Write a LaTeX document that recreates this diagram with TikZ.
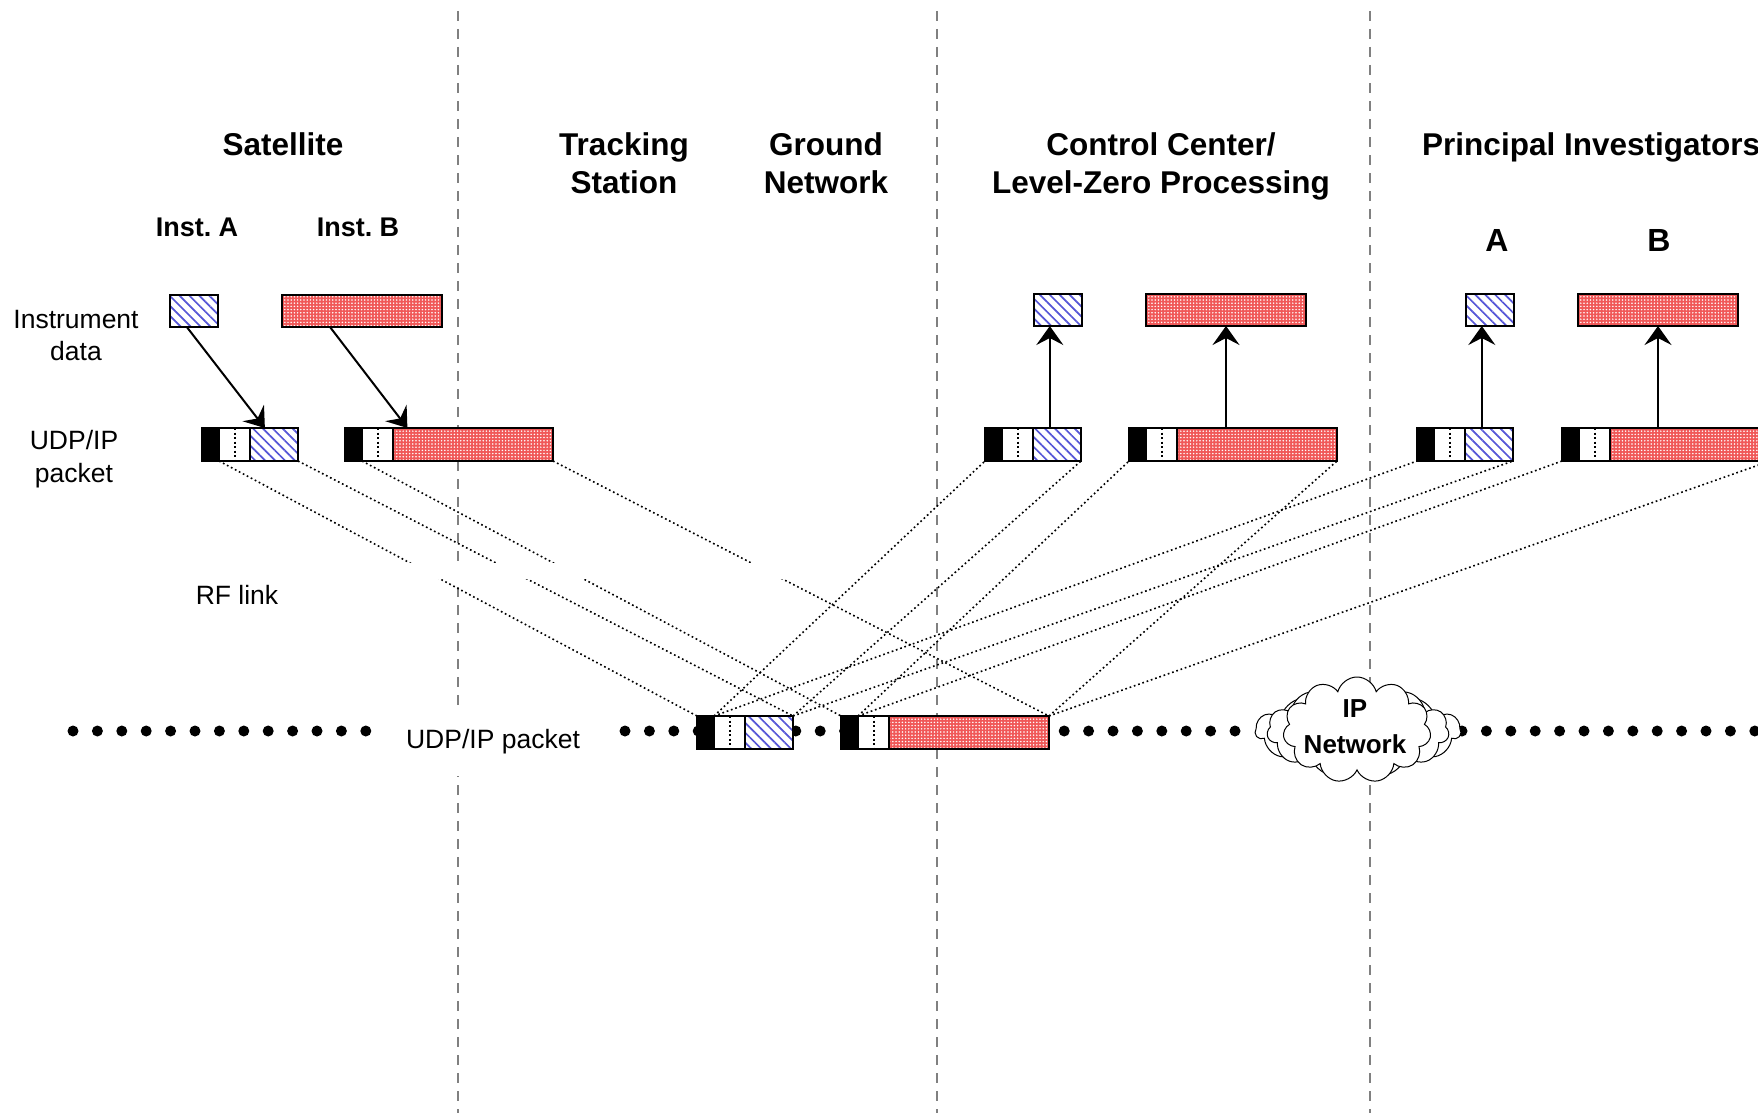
\documentclass[tikz,border=0pt]{standalone}
\usepackage{fontspec}
\setmainfont{Liberation Sans}
\usetikzlibrary{positioning,calc,arrows.meta,patterns.meta,shapes.symbols}
\definecolor{pktblue}{RGB}{85,85,215}
\definecolor{pktred}{RGB}{240,88,88}
\definecolor{zonegray}{RGB}{128,128,128}
\tikzset{
  zone/.style={draw=zonegray, line width=2.5pt, dash pattern=on 10pt off 8pt},
  hdrblack/.style={draw, fill=black, line width=2pt, minimum width=17pt, minimum height=33pt, inner sep=0pt, outer sep=0pt},
  hdrwhite/.style={draw, fill=white, line width=2pt, minimum width=31pt, minimum height=33pt, inner sep=0pt, outer sep=0pt},
  bluepay/.style={draw, line width=2pt, minimum height=33pt, inner sep=0pt, outer sep=0pt,
    preaction={fill=white}, pattern={Lines[angle=-45,distance=7pt,line width=1.7pt]}, pattern color=pktblue},
  redpay/.style={draw, line width=2pt, minimum height=33pt, inner sep=0pt, outer sep=0pt,
    preaction={fill=pktred}, pattern={Dots[distance=3.2pt,radius=0.85pt]}, pattern color=white},
  pktsep/.style={line width=2pt, dash pattern=on 2pt off 2.5pt},
  hop/.style={line width=1.6pt, dash pattern=on 1.7pt off 2.8pt},
  feed/.style={-{Stealth[length=19pt,width=27pt,inset=7pt]}, line width=2pt},
  busdots/.style={line width=11pt, line cap=round, dash pattern=on 0pt off 24.4pt},
  cloudbase/.style={cloud, cloud puffs=11, cloud ignores aspect, draw, fill=white, line width=1pt, inner sep=0pt},
  title/.style={font=\fontsize{31.5}{38}\selectfont\bfseries, align=center, inner sep=0pt},
  sublabel/.style={font=\fontsize{27}{33}\selectfont\bfseries, inner sep=0pt},
  pilabel/.style={font=\fontsize{32}{38}\selectfont\bfseries, inner sep=0pt},
  note/.style={font=\fontsize{26.5}{32.5}\selectfont, align=center, inner sep=0pt},
}
% packet: name, left x, top y, payload style, payload width
\newcommand{\udppkt}[5]{%
  \node[hdrblack, anchor=north west] (#1h) at (#2,#3) {};
  \node[hdrwhite, right=0pt of #1h] (#1w) {};
  \node[#4, minimum width=#5, right=0pt of #1w] (#1p) {};
  \draw[pktsep] (#1w.north) -- (#1w.south);
}

\begin{document}
\begin{tikzpicture}[x=1pt,y=-1pt]
\useasboundingbox (0,0) rectangle (1758,1116);

% zone borders
\foreach \zx in {458,937,1370}
  \draw[zone] (\zx,11) -- (\zx,1113);

% RF / IP bus
\draw[busdots] (73,731) -- (368,731);
\draw[busdots] (625,731) -- (1250,731);
\draw[busdots] (1462,731) -- (1770,731);

% instrument data
\node[bluepay, minimum width=48pt, minimum height=32pt, anchor=north west] (sai) at (170,295) {};
\node[redpay, minimum width=160pt, minimum height=32pt, anchor=north west] (sbi) at (282,295) {};
\node[bluepay, minimum width=48pt, minimum height=32pt, anchor=north west] (cai) at (1034,294) {};
\node[redpay, minimum width=160pt, minimum height=32pt, anchor=north west] (cbi) at (1146,294) {};
\node[bluepay, minimum width=48pt, minimum height=32pt, anchor=north west] (pai) at (1466,294) {};
\node[redpay, minimum width=160pt, minimum height=32pt, anchor=north west] (pbi) at (1578,294) {};

% UDP/IP packets
\udppkt{sa}{202}{428}{bluepay}{48pt}
\udppkt{sb}{345}{428}{redpay}{160pt}
\udppkt{ca}{985}{428}{bluepay}{48pt}
\udppkt{cb}{1129}{428}{redpay}{160pt}
\udppkt{pa}{1417}{428}{bluepay}{48pt}
\udppkt{pb}{1562}{428}{redpay}{160pt}

% packets on the link
\udppkt{ga}{697}{716}{bluepay}{48pt}
\udppkt{gb}{841}{716}{redpay}{160pt}

\draw[hop] (saw.south west) -- (gah.north west);
\draw[hop] (sap.south east) -- (gap.north east);
\draw[hop] (sbw.south west) -- (gbh.north west);
\draw[hop] (sbp.south east) -- (gbp.north east);
\draw[hop] (gaw.north west) -- (cah.south west);
\draw[hop] (gap.north east) -- (cap.south east);
\draw[hop] (gaw.north west) -- (pah.south west);
\draw[hop] (gap.north east) -- (pap.south east);
\draw[hop] (gbw.north west) -- (cbh.south west);
\draw[hop] (gbp.north east) -- (cbp.south east);
\draw[hop] (gbw.north west) -- (pbh.south west);
\draw[hop] (gbp.north east) -- (pbp.south east);
\fill[white] (400,563) rectangle (810,579);

% encapsulation / extraction
\draw[feed] ($(sai.south west)!0.35!(sai.south east)$) -- ($(sap.north west)!0.31!(sap.north east)$);
\draw[feed] ($(sbi.south west)!0.3!(sbi.south east)$) -- ($(sbp.north west)!0.09!(sbp.north east)$);
\coordinate (cat) at ($(cap.north west)!0.35!(cap.north east)$);
\draw[feed] (cat) -- (cat |- cai.south);
\draw[feed] (cbi.south |- cbp.north) -- (cbi.south);
\coordinate (pat) at ($(pap.north west)!0.35!(pap.north east)$);
\draw[feed] (pat) -- (pat |- pai.south);
\draw[feed] (pbi.south |- pbp.north) -- (pbi.south);

% IP network
\node[cloudbase, minimum width=205pt, minimum height=78pt] (ipback) at (1358,731) {};
\node[cloudbase, minimum width=182pt, minimum height=92pt] (ipmid) at (1358,731) {};
\node[cloudbase, minimum width=148pt, minimum height=106pt] (ipnet) at (1357,730) {};
\node[font=\fontsize{26}{36}\selectfont\bfseries, align=center, inner sep=0pt] (iptxt) at (1355,727) {IP\\Network};

% labels
\node[title, anchor=base] (satttl) at (283,155) {Satellite};
\node[title, anchor=base] (trkttl) at (624,193) {Tracking\\Station};
\node[title, anchor=base] (gndttl) at (826,193) {Ground\\Network};
\node[title, anchor=base] (ccttl) at (1161,193) {Control Center/\\Level-Zero Processing};
\node[title, anchor=base west] (pittl) at (1422,155) {Principal Investigators};
\node[sublabel, anchor=base] (insta) at (197,236.5) {Inst.\ A};
\node[sublabel, anchor=base] (instb) at (358,236.5) {Inst.\ B};
\node[pilabel, anchor=base] (pia) at (1497,251.5) {A};
\node[pilabel, anchor=base] (pib) at (1659,251.5) {B};
\node[note, anchor=base] (instdata) at (76,360.5) {Instrument\\data};
\node[note, anchor=base] (pktlbl) at (74,482) {UDP/IP\\packet};
\node[note, anchor=base] (rflbl) at (237,604) {RF link};
\node[note, anchor=base, fill=white, inner xsep=27pt, inner ysep=22pt] (buslbl) at (493,748) {UDP/IP packet};
\end{tikzpicture}
\end{document}
